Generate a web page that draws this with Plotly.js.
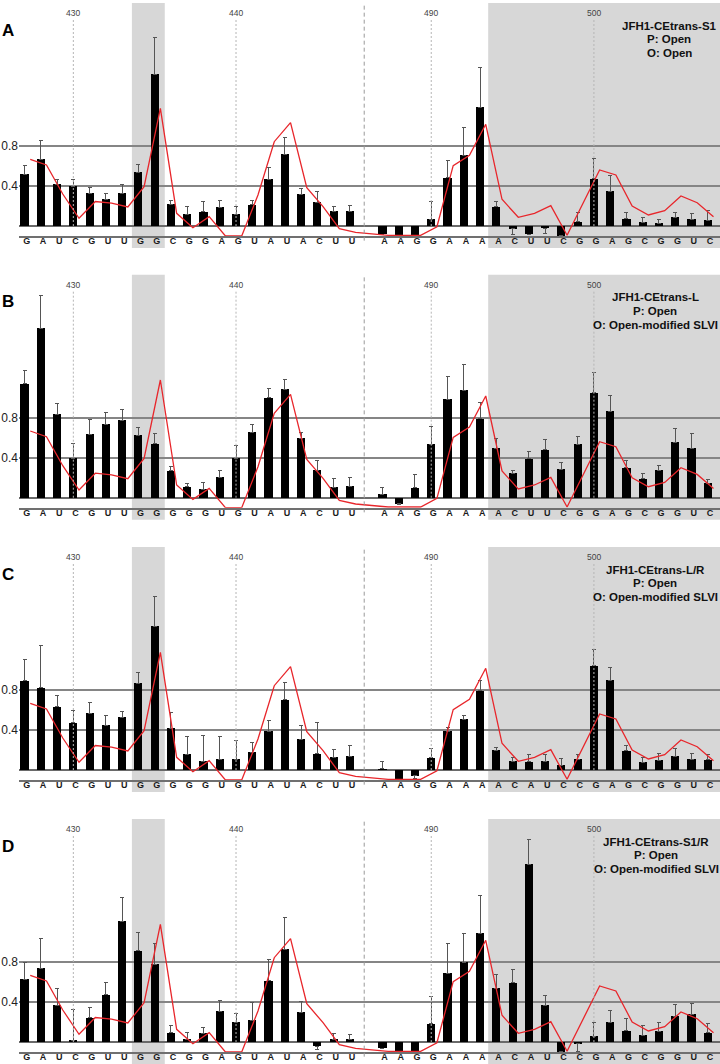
<!DOCTYPE html>
<html>
<head>
<meta charset="utf-8">
<script src="https://cdn.plot.ly/plotly-3.0.1.min.js"></script>
<style>html,body{margin:0;padding:0;background:#fff}#chart{width:720px;height:1064px}</style>
</head>
<body>
<div id="chart"></div>
<script>
// ---------- data ----------
const positions = [427,428,429,430,431,432,433,434,435,436,437,438,439,440,441,442,443,444,445,446,447,
                   487,488,489,490,491,492,493,494,495,496,497,498,499,500,501,502,503,504,505,506,507];
const markedPositions = [430, 440, 490, 500];
const yTickVals = [0.4, 0.8];
const yTickText = ['0.4', '0.8'];

const seqA = ['G','A','U','C','G','U','U','G','G','C','G','G','A','G','U','A','U','A','C','U','U',
              'A','A','G','G','A','A','A','A','C','U','U','C','G','G','A','G','C','G','G','U','C'];
const seqB = ['G','A','U','C','G','U','U','G','G','G','G','G','U','G','U','A','U','A','C','U','U',
              'A','A','G','G','A','A','A','A','C','U','U','C','G','G','A','G','C','G','G','U','C'];
const seqC = ['G','A','U','C','G','U','U','G','G','G','G','G','U','G','U','A','U','A','C','U','U',
              'A','A','G','G','A','A','A','A','C','A','U','C','C','G','A','G','C','G','G','U','C'];
const seqD = ['G','A','U','C','G','U','U','G','G','C','G','G','A','G','U','A','U','A','C','U','U',
              'A','A','G','G','A','A','A','A','C','A','U','C','C','G','A','G','C','G','G','U','C'];

// reference reactivity profile (red line, identical in every panel)
const reference = [0.667,0.61,0.32,0.077,0.245,0.228,0.19,0.393,1.177,0.127,-0.017,0.093,-0.1,-0.1,0.31,0.843,1.033,0.383,0.193,-0.027,-0.063,
                   -0.093,-0.093,-0.093,-0.007,0.603,0.707,1.017,0.267,0.087,0.127,0.203,-0.093,0.233,0.56,0.51,0.2,0.11,0.153,0.3,0.233,0.093];

const valsA = [0.52,0.667,0.42,0.40,0.33,0.267,0.33,0.537,1.52,0.22,0.12,0.143,0.19,0.117,0.213,0.467,0.72,0.317,0.24,0.15,0.147,
               -0.083,-0.09,-0.09,0.07,0.483,0.71,1.187,0.193,-0.027,-0.08,-0.023,-0.097,0.043,0.473,0.347,0.073,0.04,0.027,0.09,0.07,0.057];
const errA  = [0.087,0.19,0.047,0.067,0.057,0.057,0.09,0.08,0.363,0.04,0.08,0.1,0.067,0.077,0.043,0.12,0.167,0.06,0.107,0.047,0.06,
               0,0,0,0.18,0.17,0.28,0.4,0.057,0.057,0,0.05,0,0.097,0.207,0.163,0.067,0.047,0.04,0.05,0.057,0.1];

const valsB = [1.14,1.693,0.833,0.397,0.637,0.737,0.777,0.627,0.54,0.27,0.11,0.087,0.207,0.397,0.657,1.0,1.083,0.593,0.273,0.103,0.113,
               0.037,-0.06,0.1,0.533,0.987,1.073,0.79,0.497,0.247,0.39,0.48,0.287,0.533,1.05,0.863,0.3,0.19,0.273,0.553,0.497,0.143];
const errB  = [0.133,0.33,0.11,0.147,0.147,0.117,0.103,0.073,0.103,0.047,0.033,0.067,0.067,0.127,0.077,0.093,0.1,0.06,0.1,0.09,0.093,
               0.067,0.01,0.137,0.18,0.227,0.263,0.167,0.097,0.03,0.073,0.107,0.067,0.08,0.207,0.163,0.073,0.053,0.05,0.143,0.147,0.04];

const valsC = [0.893,0.823,0.633,0.473,0.57,0.447,0.53,0.867,1.44,0.417,0.157,0.087,0.11,0.11,0.177,0.39,0.703,0.307,0.163,0.127,0.14,
               0.013,-0.093,-0.057,0.123,0.39,0.507,0.793,0.197,0.09,0.083,0.09,0.05,0.11,1.043,0.9,0.193,0.08,0.097,0.14,0.11,0.103];
const errC  = [0.213,0.427,0.113,0.123,0.103,0.1,0.057,0.113,0.293,0.16,0.18,0.26,0.227,0.187,0.1,0.11,0.173,0.14,0.313,0.08,0.103,
               0.073,0,0.03,0.093,0.033,0.04,0.107,0.033,0.037,0.073,0.067,0.067,0.047,0.167,0.127,0.057,0.047,0.067,0.077,0.057,0.053];

const valsD = [0.627,0.737,0.37,0.017,0.243,0.473,1.21,0.913,0.78,0.093,0.027,0.087,0.307,0.197,0.217,0.613,0.927,0.297,-0.04,0.027,0.027,
               -0.063,-0.097,-0.097,0.183,0.69,0.8,1.087,0.537,0.593,1.78,0.367,-0.097,-0.017,0.06,0.197,0.113,0.07,0.107,0.257,0.28,0.093];
const errD  = [0.167,0.3,0.167,0.31,0.1,0.127,0.24,0.187,0.207,0.07,0.07,0.06,0.11,0.09,0.18,0.213,0.32,0.11,0.03,0.06,0.05,
               0,0,0,0.27,0.297,0.287,0.383,0.14,0.133,0.247,0.1,0,0.08,0.137,0.12,0.123,0.097,0.09,0.12,0.107,0.093];

const panelLetters = ['A','B','C','D'];
const constructs = ['JFH1-CEtrans-S1','JFH1-CEtrans-L','JFH1-CEtrans-L/R','JFH1-CEtrans-S1/R'];
const promoterLines = ['P: Open','P: Open','P: Open','P: Open'];
const otherLines = ['O: Open','O: Open-modified SLVI','O: Open-modified SLVI','O: Open-modified SLVI'];

// ---------- layout helpers ----------
const FONT = 'Liberation Sans, Arial, Helvetica, sans-serif';
const W = 720, H = 1064, ML = 19;
const XR = [-0.34, 42.75];
const YR = [-0.1, 2.23];
const baselinePx = [226, 497.7, 770, 1042];
const titleCenterPx = [669, 655, 655, 656];
const slotOf = p => (p <= 447 ? p - 427 : p - 465);
const slot = positions.map(slotOf);
const xd = v => (v - XR[0]) / (XR[1] - XR[0]);
const xpaper = px => (px - ML) / (W - ML);
const plotH = 233;

const seqs = [seqA, seqB, seqC, seqD];
const vals = [valsA, valsB, valsC, valsD];
const errs = [errA, errB, errC, errD];

const data = [], shapes = [], annotations = [];
const layout = {
  width: W, height: H,
  margin: {l: ML, r: 0, t: 0, b: 0},
  paper_bgcolor: '#ffffff',
  plot_bgcolor: 'rgba(0,0,0,0)',
  showlegend: false,
  font: {family: FONT, color: '#222'},
  bargap: 0
};

for (let k = 0; k < 4; k++) {
  const sfx = k === 0 ? '' : String(k + 1);
  const xa = 'x' + sfx, ya = 'y' + sfx;
  const b = baselinePx[k];
  layout['xaxis' + sfx] = {
    domain: [0, 1], anchor: ya, range: XR, fixedrange: true,
    tickmode: 'array', tickvals: slot.map(s => s + 0.13), ticktext: seqs[k],
    tickfont: {family: FONT, size: 9, color: '#1a1a1a', weight: 700},
    ticklabelstandoff: -5,
    ticks: '', showgrid: false, zeroline: false,
    showline: true, linecolor: '#707070', linewidth: 2
  };
  layout['yaxis' + sfx] = {
    domain: [1 - (b + 10) / H, 1 - (b - 223) / H], anchor: xa, range: YR, fixedrange: true,
    tickmode: 'array', tickvals: yTickVals, ticktext: yTickText,
    tickfont: {family: FONT, size: 12, color: '#222'},
    ticks: '', showgrid: true, gridcolor: '#858585', gridwidth: 2,
    zeroline: true, zerolinecolor: '#6a6a6a', zerolinewidth: 2, showline: false
  };

  const v = vals[k], e = errs[k];
  data.push({
    type: 'bar', x: slot, y: v, xaxis: xa, yaxis: ya, width: 0.5,
    marker: {color: '#000000', line: {width: 0}},
    error_y: {
      type: 'data', symmetric: false, visible: true,
      array: v.map((y, i) => (y >= 0 ? e[i] : 0)),
      arrayminus: v.map((y, i) => (y < 0 ? e[i] : 0)),
      color: '#555555', thickness: 1, width: 2
    },
    hoverinfo: 'skip'
  });
  data.push({
    type: 'scatter', mode: 'lines', x: slot.map(s => s + 0.35), y: reference,
    xaxis: xa, yaxis: ya, cliponaxis: false,
    line: {color: '#e8262b', width: 1.3}, hoverinfo: 'skip'
  });

  // shaded regions (extend below the plot to cover the letters)
  shapes.push({type: 'rect', xref: xa + ' domain', yref: ya + ' domain', layer: 'below',
    x0: xd(6.6), x1: xd(8.62), y0: -12 / plotH, y1: 1, fillcolor: '#d7d7d7', line: {width: 0}});
  shapes.push({type: 'rect', xref: xa + ' domain', yref: ya + ' domain', layer: 'below',
    x0: xd(28.5), x1: 1, y0: -12 / plotH, y1: 1, fillcolor: '#d7d7d7', line: {width: 0}});
  // gap separator
  shapes.push({type: 'line', xref: xa + ' domain', yref: ya + ' domain', layer: 'above',
    x0: xd(20.88), x1: xd(20.88), y0: -0.02, y1: 1, line: {color: '#9a9a9a', width: 1, dash: '4px,3px'}});
  // position markers
  markedPositions.forEach(p => {
    const s = slotOf(p);
    shapes.push({type: 'line', xref: xa, yref: ya, layer: 'above',
      x0: s, x1: s, y0: 0, y1: 2.07, line: {color: '#b5b5b5', width: 1, dash: '2px,2px'}});
    annotations.push({xref: xa, yref: ya, x: s, y: 2.13, text: String(p), showarrow: false,
      xanchor: 'center', yanchor: 'middle', font: {family: FONT, size: 8.5, color: '#444'}});
  });
  // panel letter
  annotations.push({xref: 'paper', yref: ya, x: xpaper(0), y: 1.96, text: panelLetters[k], showarrow: false,
    xanchor: 'left', yanchor: 'middle', font: {family: FONT, size: 17, color: '#000', weight: 700}});
  // construct description
  const tx = xpaper(titleCenterPx[k]);
  [constructs[k], promoterLines[k], otherLines[k]].forEach((t, j) => {
    annotations.push({xref: 'paper', yref: ya, x: tx, y: 2.005 - 0.138 * j, text: t, showarrow: false,
      xanchor: 'center', yanchor: 'middle', font: {family: FONT, size: 11.5, color: '#111', weight: 700}});
  });
}
layout.shapes = shapes;
layout.annotations = annotations;

Plotly.newPlot('chart', data, layout, {staticPlot: true, displayModeBar: false});
</script>
</body>
</html>
